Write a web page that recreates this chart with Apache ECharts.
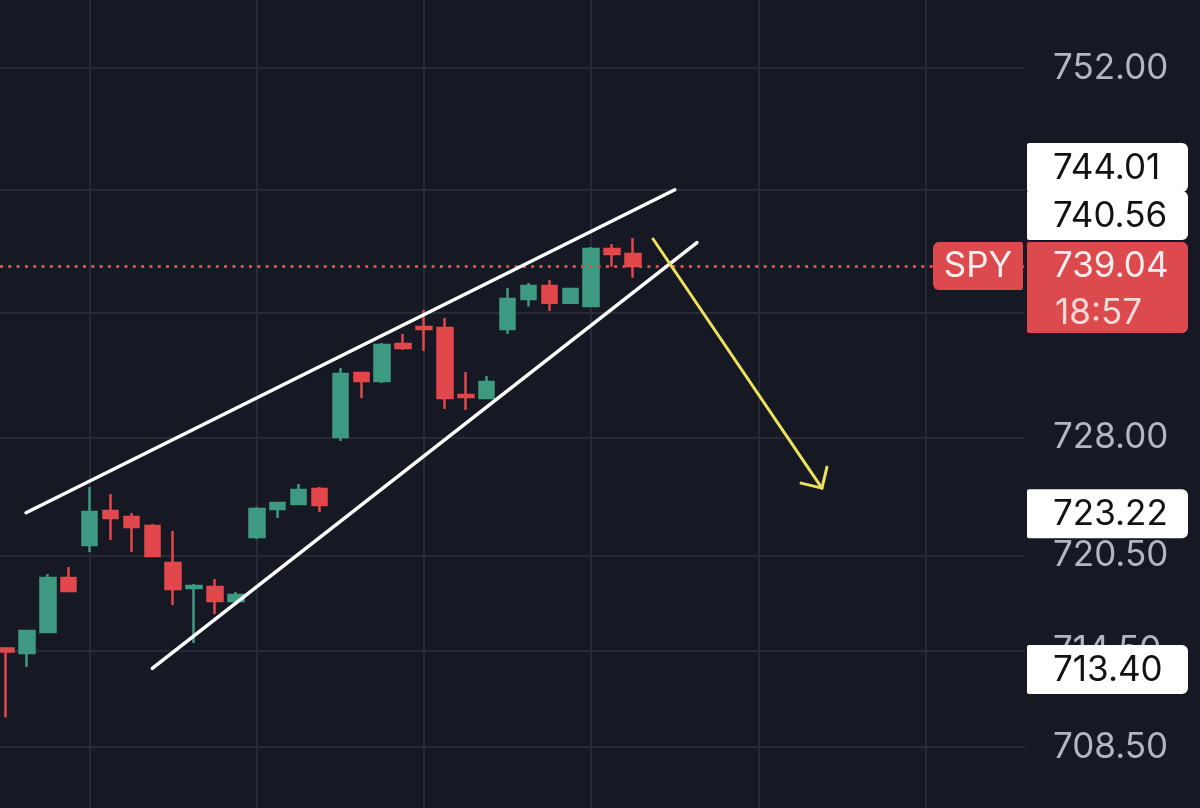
<!DOCTYPE html>
<html>
<head>
<meta charset="utf-8">
<script src="https://cdn.jsdelivr.net/npm/echarts@6/dist/echarts.min.js"></script>
<style>
html,body{margin:0;padding:0;background:#161923;}
#c{width:1200px;height:808px;}
</style>
</head>
<body>
<div id="c"></div>
<script>
// ---- data ----
const candleIndex = [0,1,2,3,4,5,6,7,8,9,10,11,12,13,14,15,16,17,18,19,20,21,22,23,24,25,26,27,28,29,30];
const opens  = [714.65,714.37,715.69,719.09,721.17,723.33,722.95,722.38,720.03,718.46,718.52,717.64,721.68,723.45,723.77,724.72,728.04,732.14,731.63,734.00,735.10,735.03,730.72,730.53,734.97,736.91,737.75,736.66,736.46,740.15,739.83];
const closes = [714.46,715.75,719.09,718.27,723.26,722.88,722.31,720.48,718.39,718.58,717.64,718.02,723.45,723.83,724.66,723.71,732.08,731.63,733.94,733.75,734.97,730.53,730.60,731.56,736.91,737.75,736.66,737.56,740.15,739.83,739.04];
const lows   = [710.36,713.49,715.65,718.20,720.73,721.49,720.73,720.45,717.39,714.99,716.82,717.39,721.55,722.88,723.70,723.26,727.78,730.53,731.50,733.62,733.55,729.83,729.76,730.45,734.65,736.43,736.14,736.60,736.40,739.00,738.29];
const highs  = [714.74,715.81,719.34,719.78,724.85,724.40,723.20,722.50,722.06,718.71,719.02,718.20,723.58,723.90,725.04,724.85,732.46,732.20,734.07,734.65,736.20,735.68,732.20,731.95,737.62,737.95,738.14,737.62,740.28,740.48,740.87];

const yTickValues = [752, 744, 736, 728, 720.5, 714.5, 708.5];
const xGridValues = [4, 12, 20, 28, 36, 44];

const upperTrend = [[0.96, 723.22], [32.0, 744.01]];
const lowerTrend = [[7.0, 713.40], [33.06, 740.56]];
const arrowShaft = [[30.96, 740.80], [39.04, 724.78]];
const arrowHead  = [[38.04, 725.10], [39.04, 724.78], [39.28, 726.12]];

const lastPrice = 739.04;
const levelLabels = [744.01, 740.56, 723.22, 713.40];
const symbolName = 'SPY';
const countdown = '18:57';

// ---- chart ----
const FONT = 'Inter, "Noto Sans", sans-serif';
const chart = echarts.init(document.getElementById('c'), null, {renderer: 'canvas'});

const candleData = candleIndex.map((x, k) => [x, opens[k], closes[k], lows[k], highs[k]]);

const option = {
  backgroundColor: '#161923',
  animation: false,
  grid: {left: 0, right: 175, top: 0, bottom: 0, containLabel: false},
  xAxis: {
    type: 'value',
    min: -0.287,
    max: 48.756,
    axisLine: {show: false},
    axisTick: {show: false, customValues: xGridValues},
    axisLabel: {show: false, customValues: xGridValues},
    splitLine: {show: true, lineStyle: {color: '#272b37', width: 2}}
  },
  yAxis: {
    type: 'log',
    logBase: 10,
    position: 'right',
    min: 704.72,
    max: 756.50,
    axisLine: {show: false},
    axisTick: {show: false, customValues: yTickValues},
    axisLabel: {
      show: true,
      customValues: yTickValues,
      formatter: v => Number(v).toFixed(2),
      color: '#b3b6bf',
      fontFamily: FONT,
      fontSize: 35,
      align: 'left',
      margin: 28
    },
    splitLine: {show: true, lineStyle: {color: '#272b37', width: 2}}
  },
  series: [
    {
      type: 'candlestick',
      data: candleData,
      encode: {x: 0, y: [1, 2, 3, 4]},
      barWidth: 15,
      itemStyle: {
        color: '#3e9a81',
        color0: '#e2474b',
        borderColor: '#3e9a81',
        borderColor0: '#e2474b',
        borderWidth: 2.5
      },
      markLine: {
        silent: true,
        symbol: ['none', 'none'],
        label: {show: false},
        lineStyle: {color: '#e2474b', type: [3, 5.3], width: 3, opacity: 1},
        data: [{yAxis: lastPrice}]
      },
      z: 3
    },
    {
      type: 'line', data: upperTrend, symbol: 'none', silent: true,
      lineStyle: {color: '#ffffff', width: 3.5, cap: 'round'}, z: 5
    },
    {
      type: 'line', data: lowerTrend, symbol: 'none', silent: true,
      lineStyle: {color: '#ffffff', width: 3.5, cap: 'round'}, z: 5
    },
    {
      type: 'line', data: arrowShaft, symbol: 'none', silent: true,
      lineStyle: {color: '#ece05c', width: 3, cap: 'round'}, z: 6
    },
    {
      type: 'line', data: arrowHead, symbol: 'none', silent: true,
      lineStyle: {color: '#ece05c', width: 3, cap: 'round', join: 'round'}, z: 6
    }
  ]
};
chart.setOption(option);

// ---- price-scale labels, placed from the y axis scale ----
const yOf = v => chart.convertToPixel({yAxisIndex: 0}, v);
const BOX_X = 1027, BOX_W = 161, H = 48, GAP = 2, TEXT_X = 1053;
const pY = yOf(lastPrice);
const priceTop = pY - H / 2;
const priceBottom = priceTop + 91;

const graphics = [];
// price box (value + countdown)
graphics.push({type: 'rect', z: 100, shape: {x: BOX_X, y: priceTop, width: BOX_W, height: priceBottom - priceTop, r: [2, 6, 6, 2]}, style: {fill: '#dc4a4d'}});
graphics.push({type: 'text', z: 101, style: {text: lastPrice.toFixed(2), x: TEXT_X, y: pY, fill: '#fbeeee', font: '35px ' + FONT, textVerticalAlign: 'middle', textAlign: 'left'}});
graphics.push({type: 'text', z: 101, style: {text: countdown, x: TEXT_X + 2, y: pY + 47, fill: '#f6dada', font: '35px ' + FONT, textVerticalAlign: 'middle', textAlign: 'left'}});
// symbol tag
graphics.push({type: 'rect', z: 100, shape: {x: 933, y: priceTop, width: 90, height: H, r: [6, 2, 2, 6]}, style: {fill: '#dc4a4d'}});
graphics.push({type: 'text', z: 101, style: {text: symbolName, x: 978, y: pY, fill: '#fbeeee', font: '35px ' + FONT, textVerticalAlign: 'middle', textAlign: 'center'}});

// level boxes, stacked so they don't overlap the price box
const above = levelLabels.filter(v => v > lastPrice).sort((a, b) => a - b);
const below = levelLabels.filter(v => v < lastPrice).sort((a, b) => b - a);
const placed = [];
let limit = priceTop - GAP;
above.forEach(v => {
  const c = Math.min(yOf(v), limit - H / 2);
  placed.push([v, c]);
  limit = c - H / 2;
});
limit = priceBottom + GAP;
below.forEach(v => {
  const c = Math.max(yOf(v) + 1.5, limit + H / 2);
  placed.push([v, c]);
  limit = c + H / 2;
});
placed.forEach(([v, c]) => {
  graphics.push({type: 'rect', z: 100, shape: {x: BOX_X, y: c - H / 2 - 1, width: BOX_W, height: H + 1, r: [2, 6, 6, 2]}, style: {fill: '#ffffff'}});
  graphics.push({type: 'text', z: 101, style: {text: v.toFixed(2), x: TEXT_X, y: c, fill: '#121212', font: '35px ' + FONT, textVerticalAlign: 'middle', textAlign: 'left'}});
});

chart.setOption({graphic: graphics});
</script>
</body>
</html>
